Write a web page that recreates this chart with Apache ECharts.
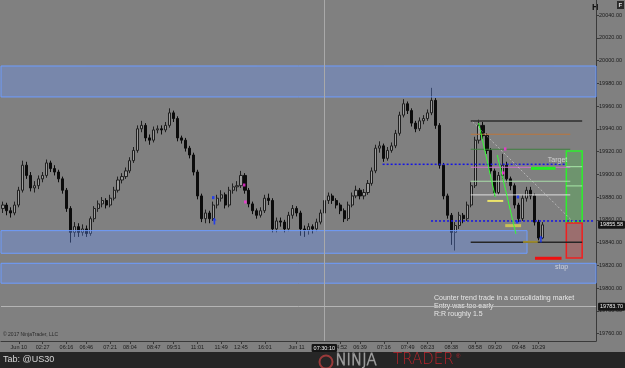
<!DOCTYPE html>
<html><head><meta charset="utf-8">
<script src="https://cdn.jsdelivr.net/npm/echarts@6/dist/echarts.min.js"></script>
<style>html,body{margin:0;padding:0;background:#808080;overflow:hidden}#c{width:625px;height:368px}</style>
</head><body><div id="c"></div><script>
// ---- data ----
const candles = [
[19870,19873,19866,19876],[19873,19868,19864,19875],[19868,19866,19862,19871],[19866,19873,19864,19876],
[19873,19886,19871,19889],[19886,19908,19884,19912],[19908,19899,19896,19911],[19899,19888,19885,19902],
[19888,19890,19884,19894],[19890,19896,19887,19899],[19896,19899,19893,19902],[19899,19910,19897,19913],
[19910,19905,19902,19912],[19905,19902,19899,19908],[19902,19896,19893,19904],[19896,19886,19883,19898],
[19886,19870,19867,19888],[19870,19849,19840,19872],[19849,19854,19845,19858],[19854,19849,19845,19857],
[19849,19852,19846,19856],[19852,19848,19845,19855],[19848,19861,19846,19863],[19861,19870,19858,19872],
[19870,19874,19867,19877],[19874,19877,19871,19880],[19877,19873,19870,19879],[19873,19879,19871,19882],
[19879,19886,19877,19889],[19886,19895,19884,19898],[19895,19898,19892,19901],[19898,19903,19896,19906],
[19903,19912,19901,19915],[19912,19921,19910,19924],[19921,19940,19919,19943],[19940,19943,19937,19947],
[19943,19932,19929,19945],[19932,19930,19926,19935],[19930,19939,19928,19942],[19939,19940,19936,19943],
[19940,19939,19935,19943],[19939,19943,19937,19946],[19943,19954,19941,19958],[19954,19949,19946,19956],
[19949,19932,19929,19951],[19932,19930,19927,19934],[19930,19923,19920,19932],[19923,19917,19914,19925],
[19917,19902,19899,19919],[19902,19881,19878,19904],[19881,19861,19858,19883],[19861,19866,19857,19869],
[19866,19861,19857,19868],[19861,19873,19859,19876],[19873,19879,19870,19882],[19879,19882,19876,19886],
[19882,19873,19870,19884],[19873,19886,19871,19889],[19886,19889,19883,19892],[19889,19890,19885,19894],
[19890,19899,19888,19903],[19899,19886,19883,19901],[19886,19874,19871,19888],[19874,19868,19865,19876],
[19868,19864,19861,19870],[19864,19868,19862,19871],[19868,19879,19866,19882],[19879,19877,19873,19883],
[19877,19852,19849,19879],[19852,19859,19849,19862],[19859,19858,19854,19862],[19858,19852,19849,19860],
[19852,19864,19850,19867],[19864,19870,19861,19873],[19870,19866,19863,19872],[19866,19852,19846,19868],
[19852,19851,19845,19855],[19851,19854,19847,19857],[19854,19852,19848,19856],[19852,19858,19850,19861],
[19858,19866,19856,19869],[19866,19877,19864,19880],[19877,19881,19874,19884],[19881,19877,19874,19883],
[19877,19873,19870,19879],[19873,19868,19865,19875],[19868,19861,19858,19870],[19861,19873,19859,19876],
[19873,19881,19871,19884],[19881,19886,19879,19890],[19886,19881,19878,19888],[19881,19884,19878,19887],
[19884,19892,19882,19895],[19892,19903,19890,19906],[19903,19923,19901,19926],[19923,19925,19919,19929],
[19925,19914,19911,19927],[19914,19921,19912,19924],[19921,19925,19919,19928],[19925,19936,19923,19939],
[19936,19952,19934,19955],[19952,19962,19950,19966],[19962,19956,19953,19964],[19956,19945,19942,19958],
[19945,19940,19937,19947],[19940,19947,19938,19950],[19947,19949,19944,19952],[19949,19954,19947,19957],
[19954,19965,19952,19976],[19965,19943,19940,19967],[19943,19908,19905,19945],[19908,19881,19878,19910],
[19881,19864,19861,19883],[19864,19849,19838,19866],[19849,19855,19833,19858],[19855,19864,19852,19867],
[19864,19861,19857,19866],[19861,19873,19859,19876],[19873,19890,19871,19893],[19890,19930,19888,19933],
[19930,19943,19927,19948],[19943,19934,19931,19946],[19934,19921,19918,19936],[19921,19903,19900,19923],
[19903,19884,19881,19905],[19884,19899,19882,19902],[19899,19908,19896,19918],[19908,19896,19893,19911],
[19896,19890,19886,19898],[19890,19873,19870,19892],[19873,19861,19858,19875],[19861,19879,19859,19882],
[19879,19886,19876,19889],[19886,19881,19878,19889],[19881,19858,19855,19883],[19858,19844,19842,19860],
[19844,19855.58,19843,19858]
];
const slotCount = 150;
const tickIdx = [4,10,16,21,27,32,38,43,49,55,60,66,74,85,90,96,102,107,113,119,124,130,135];
const tickLabels = ['Jun 10','02:27','06:16','06:46','07:21','08:04','08:47','09:51','11:01','11:49','12:45','16:01','Jun 11','04:52','06:39','07:16','07:49','08:23','08:38','08:58','09:20','09:48','10:29'];
const priceTicks = [19760,19780,19800,19820,19840,19860,19880,19900,19920,19940,19960,19980,20000,20020,20040];
const priceRange = [19753.5, 20053.2];
const crossX = 81, crossXLabel = '07:30:10';
const crossY = 19783.7;
const lastPrice = 19855.58;
// zones: [fromIdx, priceTop, toIdx, priceBottom]
const zones = [[-0.5,19995.2,149.5,19968.0],[-0.5,19850.5,132.1,19830.6],[-0.5,19821.8,149.5,19804.3]];
// drawn segments: [x1, p1, x2, p2]
const segments = [
[117.9,19946.9,146.0,19946.9],[117.9,19935.2,143.0,19935.2],[117.9,19922.0,143.0,19922.0],
[117.9,19906.2,143.0,19906.2],[117.9,19893.9,143.0,19893.9],[117.9,19881.9,143.0,19881.9],
[117.9,19840.3,146.0,19840.3],[95.7,19908.8,142.0,19908.8],[107.9,19859.0,149.0,19859.0],
[133.1,19905.3,139.3,19905.3],[134.1,19826.2,140.8,19826.2],[122.1,19876.6,126.1,19876.6],
[126.6,19854.9,130.6,19854.9],[131.1,19840.6,134.8,19840.6],[119.9,19945.1,124.1,19880.1],
[124.6,19917.0,129.3,19847.6],[118.4,19946.0,144.0,19857.3],[142.0,19906.7,146.0,19906.7],
[142.0,19889.8,146.0,19889.8]
];
const targetBox = [142.0,19920.5,146.0,19858.1];
const stopBox = [142.0,19857.3,146.0,19826.5];
const upArrows = [[53.3,19862.5],[135.6,19846.7]];
const blueDots = [[53,19879.5],[129.8,19880.1],[129.6,19858.1]];
const pinkMarks = [[60.8,19890.6],[61.1,19875.7],[126.6,19922.3],[126.1,19901.2]];
const tagTexts = [['Target',139.8,19912.6],['stop',140.8,19818.6]];
const noteLines = ['Counter trend trade in a consolidating market','Entry was too early','R:R roughly 1.5'];

// ---- styles ----
const segStyles = [
{stroke:'#2e2e2e',lineWidth:1.5},{stroke:'#b9753c',lineWidth:1},{stroke:'#3f7f3f',lineWidth:1},
{stroke:'#d070d0',lineWidth:1},{stroke:'#a8dca8',lineWidth:1},{stroke:'#dedede',lineWidth:1},
{stroke:'#262626',lineWidth:1.5},{stroke:'#1414e6',lineWidth:1.5,lineDash:[2,2]},{stroke:'#1414e6',lineWidth:1.5,lineDash:[2,2]},
{stroke:'#22ee22',lineWidth:3},{stroke:'#ee1111',lineWidth:3},{stroke:'#ece46a',lineWidth:2},
{stroke:'#c8bf5a',lineWidth:3},{stroke:'#9c8a2e',lineWidth:2},{stroke:'#33ff33',lineWidth:1},
{stroke:'#33ff33',lineWidth:1},{stroke:'rgba(225,225,225,0.55)',lineWidth:1,lineDash:[2,2]},{stroke:'#a8e8a8',lineWidth:1},
{stroke:'#a8e8a8',lineWidth:1}
];

const categories = Array.from({length: slotCount}, () => '');
tickIdx.forEach((k, j) => { categories[k] = tickLabels[j]; });

const font = 'Liberation Sans, Arial, sans-serif';
const chart = echarts.init(document.getElementById('c'), null, {renderer:'canvas'});
const labelBox = {show:true, backgroundColor:'#151515', color:'#f0f0f0', fontSize:5.5, fontFamily:font, padding:[1,2], borderRadius:1};

chart.setOption({
  animation:false,
  backgroundColor:'#808080',
  grid:{left:0, right:23, top:0, bottom:27},
  xAxis:[
    {type:'category', data:categories, boundaryGap:true,
     axisLine:{show:true, onZero:false, lineStyle:{color:'#3a3a3a', width:1}},
     axisTick:{show:true, alignWithLabel:true, interval:(i)=>tickIdx.includes(i), length:3, lineStyle:{color:'#3a3a3a'}},
     axisLabel:{interval:0, color:'#1c1c1c', fontSize:5.5, fontFamily:font, margin:3, hideOverlap:false},
     splitLine:{show:false}},
    {type:'value', min:-0.5, max:slotCount-0.5, show:false, axisLine:{onZero:false}}
  ],
  yAxis:[{type:'value', position:'right', min:priceRange[0], max:priceRange[1], scale:true,
     axisLine:{show:true, onZero:false, lineStyle:{color:'#3a3a3a', width:1}},
     axisTick:{show:true, length:3, customValues:priceTicks, lineStyle:{color:'#3a3a3a'}},
     axisLabel:{customValues:priceTicks, formatter:v=>v.toFixed(2), color:'#1c1c1c', fontSize:5.5, fontFamily:font, margin:3},
     splitLine:{show:false}}],
  series:[
    {type:'candlestick', xAxisIndex:0, data:candles, barWidth:2.6, z:3,
     itemStyle:{color:'#9d9d9d', color0:'#0c0c0c', borderColor:'#202020', borderColor0:'#0c0c0c', borderWidth:1}},
    {type:'custom', xAxisIndex:1, data:zones, z:4, silent:true,
     renderItem:(p, api)=>{
       const a = api.coord([api.value(0), api.value(1)]), b = api.coord([api.value(2), api.value(3)]);
       return {type:'rect', shape:{x:a[0], y:a[1], width:b[0]-a[0], height:b[1]-a[1]},
               style:{fill:'rgba(105,150,255,0.34)', stroke:'#6d9cff', lineWidth:1}};
     }},
    {type:'custom', xAxisIndex:1, data:[targetBox, stopBox], z:5, silent:true,
     renderItem:(p, api)=>{
       const a = api.coord([api.value(0), api.value(1)]), b = api.coord([api.value(2), api.value(3)]);
       const g = p.dataIndex === 0;
       return {type:'rect', shape:{x:a[0], y:a[1], width:b[0]-a[0], height:b[1]-a[1]},
               style:{fill: g ? 'rgba(70,190,70,0.32)' : 'rgba(210,70,70,0.32)', stroke: g ? '#2cf02c' : '#f02020', lineWidth:1.5}};
     }},
    {type:'custom', xAxisIndex:1, data:segments, z:6, silent:true,
     renderItem:(p, api)=>{
       const a = api.coord([api.value(0), api.value(1)]), b = api.coord([api.value(2), api.value(3)]);
       return {type:'line', shape:{x1:a[0], y1:a[1], x2:b[0], y2:b[1]}, style:segStyles[p.dataIndex]};
     }},
    {type:'scatter', xAxisIndex:1, data:upArrows, symbol:'path://M5 0 L10 5 L7 5 L7 12 L3 12 L3 5 L0 5 Z', symbolSize:[4,7], symbolOffset:[0,4], itemStyle:{color:'#1030ff'}, z:7, silent:true},
    {type:'scatter', xAxisIndex:1, data:blueDots, symbol:'rect', symbolSize:[2.5,3], itemStyle:{color:'#1030ff'}, z:7, silent:true},
    {type:'scatter', xAxisIndex:1, data:pinkMarks, symbol:'rect', symbolSize:[2.5,3], itemStyle:{color:'#ff30e0'}, z:7, silent:true},
    {type:'scatter', xAxisIndex:1, data:tagTexts.map(t=>({value:[t[1],t[2]], name:t[0]})), symbolSize:0, z:8, silent:true,
     label:{show:true, position:'inside', formatter:'{b}', color:'#e2e2e2', fontSize:7, fontFamily:font}},
    {type:'line', xAxisIndex:1, data:[], z:9, silent:true,
     markLine:{symbol:'none', silent:true, animation:false, data:[
       {xAxis:crossX, lineStyle:{color:'#a9a9a9', width:1, type:'solid'}, label:Object.assign({position:'start', formatter:crossXLabel, distance:3}, labelBox)},
       {yAxis:crossY, lineStyle:{color:'#b4b4b4', width:1, type:'solid'}, label:Object.assign({position:'end', formatter:crossY.toFixed(2), distance:2}, labelBox)},
       {yAxis:lastPrice, lineStyle:{color:'rgba(0,0,0,0)', width:1}, label:Object.assign({position:'end', formatter:lastPrice.toFixed(2), distance:2}, labelBox)}
     ]}}
  ],
  graphic:[
    {type:'text', left:3, top:332, style:{text:'© 2017 NinjaTrader, LLC', fill:'#2a2a2a', font:'5px '+font}},
    {type:'text', left:434, top:294, style:{text:noteLines.join('\n'), fill:'#e6e6e6', font:'7px '+font, lineHeight:8}},
    {type:'rect', left:0, top:352, shape:{width:625, height:16}, style:{fill:'#262626'}},
    {type:'text', left:3, top:355, style:{text:'Tab: @US30', fill:'#d6d6d6', font:'9px '+font}},
    {type:'circle', left:317, top:353, shape:{r:6.5}, style:{fill:'none', stroke:'#9a3a3a', lineWidth:2}},
    {type:'text', left:335, top:353, style:{text:'NINJA', fill:'none', stroke:'#9a9a9a', lineWidth:0.8, font:'300 15px "DejaVu Sans"'}},
    {type:'text', left:393, top:353, style:{text:'TRADER', fill:'#b8232b', font:'300 15px "DejaVu Sans"'}},
    {type:'text', left:456, top:353, style:{text:'®', fill:'#b8232b', font:'6px '+font}},
    {type:'text', left:592, top:3, style:{text:'H', fill:'#111', font:'bold 9px '+font}},
    {type:'rect', left:617, top:1, shape:{width:7, height:8}, style:{fill:'#2a2a2a'}},
    {type:'text', left:618.5, top:2, style:{text:'F', fill:'#ddd', font:'bold 6px '+font}}
  ]
});
</script></body></html>
